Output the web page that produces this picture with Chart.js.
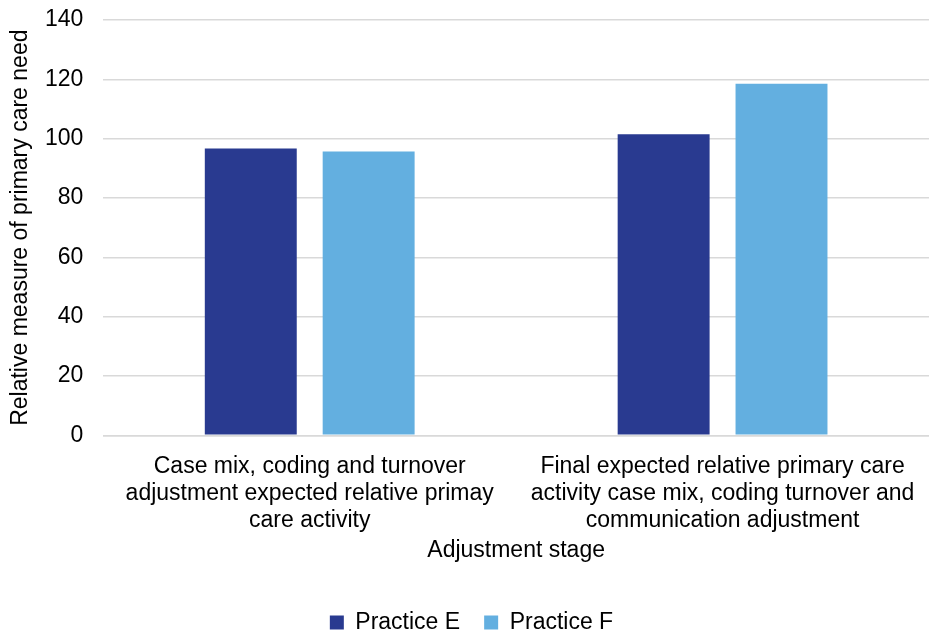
<!DOCTYPE html>
<html>
<head>
<meta charset="utf-8">
<script src="https://cdn.jsdelivr.net/npm/chart.js@4/dist/chart.umd.min.js"></script>
<style>
  html, body { margin: 0; padding: 0; background: #ffffff; }
  #wrap { width: 929px; height: 633px; }
</style>
</head>
<body>
<div id="wrap"><canvas id="c" width="929" height="633"></canvas></div>
<script>
const categories = [
  ["Case mix, coding and turnover", "adjustment expected relative primay", "care activity"],
  ["Final expected relative primary care", "activity case mix, coding turnover and", "communication adjustment"]
];
const seriesNames = ["Practice E", "Practice F"];
const practiceE = [96.7, 101.5];
const practiceF = [95.7, 118.5];
const yTicks = [0, 20, 40, 60, 80, 100, 120, 140];

const FONT = "'Liberation Sans', Arial, sans-serif";
const TXT = "#000000";
const SIZE = 23;

new Chart(document.getElementById("c"), {
  type: "bar",
  data: {
    labels: categories,
    datasets: [
      { label: seriesNames[0], data: practiceE, backgroundColor: "#293A90",
        categoryPercentage: 0.571, barPercentage: 0.78 },
      { label: seriesNames[1], data: practiceF, backgroundColor: "#63AFE0",
        categoryPercentage: 0.571, barPercentage: 0.78 }
    ]
  },
  options: {
    responsive: false,
    animation: false,
    layout: { padding: { left: 7, right: -7, top: 20, bottom: -11 } },
    plugins: {
      tooltip: { enabled: false },
      legend: {
        position: "bottom",
        labels: {
          color: TXT,
          font: { family: FONT, size: SIZE },
          boxWidth: 14, boxHeight: 14,
          padding: 24
        }
      }
    },
    scales: {
      x: {
        afterFit: (axis) => { axis.paddingLeft = 0; axis.paddingRight = 0; },
        grid: { display: false, drawTicks: false },
        border: { display: true, color: "#d9d9d9", width: 1.5 },
        ticks: {
          color: TXT, font: { family: FONT, size: SIZE, lineHeight: 1.17 },
          maxRotation: 0, autoSkip: false, padding: 18
        },
        title: {
          display: true, text: "Adjustment stage",
          color: TXT, font: { family: FONT, size: SIZE, lineHeight: 1.17 },
          padding: { top: -15, bottom: 23 }
        }
      },
      y: {
        min: 0, max: 140,
        afterBuildTicks: (axis) => { axis.ticks = yTicks.map(v => ({ value: v })); },
        afterFit: (axis) => { axis.paddingTop = 0; },
        grid: { color: "#d9d9d9", lineWidth: 1.5, drawTicks: false },
        border: { display: false },
        ticks: { color: TXT, font: { family: FONT, size: SIZE }, padding: 20 },
        title: {
          display: true, text: "Relative measure of primary care need",
          color: TXT, font: { family: FONT, size: SIZE, lineHeight: 1.17 }, padding: { top: 0, bottom: -9 }
        }
      }
    }
  }
});
</script>
</body>
</html>
